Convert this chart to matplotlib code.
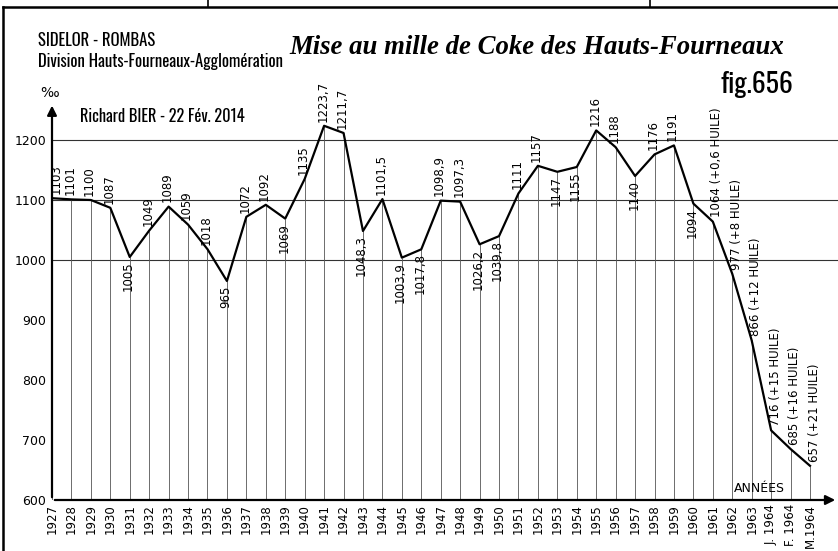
import matplotlib
matplotlib.use("Agg")
import matplotlib.pyplot as plt
from matplotlib.lines import Line2D

# Mise au mille de coke (‰), SIDELOR - Rombas
years = ['1927', '1928', '1929', '1930', '1931', '1932', '1933', '1934', '1935', '1936',
         '1937', '1938', '1939', '1940', '1941', '1942', '1943', '1944', '1945', '1946',
         '1947', '1948', '1949', '1950', '1951', '1952', '1953', '1954', '1955', '1956',
         '1957', '1958', '1959', '1960', '1961', '1962', '1963', 'J. 1964', 'F. 1964', 'M.1964']
coke = [1103, 1101, 1100, 1087, 1005, 1049, 1089, 1059, 1018, 965,
        1072, 1092, 1069, 1135, 1223.7, 1211.7, 1048.3, 1101.5, 1003.9, 1017.8,
        1098.9, 1097.3, 1026.2, 1039.8, 1111, 1157, 1147, 1155, 1216, 1188,
        1140, 1176, 1191, 1094, 1064, 977, 866, 716, 685, 657]
huile = [''] * 34 + ['(+0,6 HUILE)', '(+8 HUILE)', '(+12 HUILE)',
                     '(+15 HUILE)', '(+16 HUILE)', '(+21 HUILE)']
# labels written under the curve
below = {4, 9, 12, 16, 18, 19, 22, 23, 26, 27, 30, 33}

narrow = ['Oswald', 'DejaVu Sans']
hand = ['DejaVu Sans']

W, H = 838, 551
fig = plt.figure(figsize=(W / 100, H / 100), dpi=100)
fig.patch.set_facecolor('white')

px0, py0 = 52, 500          # origin (1927, 600) in pixels
step = 19.436               # pixels per year
scale = 0.6                 # pixels per ‰
ax = fig.add_axes([px0 / W, (H - py0) / H, (W - px0) / W, (py0 - 100) / H])
xmax = (W - px0) / step
ax.set_xlim(0, xmax)
ax.set_ylim(600, 600 + 400 / scale)
for s in ax.spines.values():
    s.set_visible(False)

x = list(range(len(coke)))

# gridlines at 1000, 1100, 1200
for g in [1000, 1100, 1200]:
    ax.plot([0, xmax], [g, g], color='#333333', lw=0.8, zorder=1)

# drop lines
ax.vlines(x, 600, coke, color='#555555', lw=0.6, zorder=1)

ax.plot(x, coke, color='black', lw=1.6, zorder=3)

# axes with arrows
ax.annotate('', xy=(0, 1262), xytext=(0, 600),
            arrowprops=dict(arrowstyle='-|>', color='black', lw=1.6, mutation_scale=14))
ax.annotate('', xy=(xmax, 600), xytext=(0, 600),
            arrowprops=dict(arrowstyle='-|>', color='black', lw=1.6, mutation_scale=14))

for i, v in enumerate(coke):
    txt = str(int(v)) if v == int(v) else f"{v:.1f}".replace('.', ',')
    if huile[i]:
        txt = txt + ' ' + huile[i]
    if i in below:
        ax.annotate(txt, (i, v), xytext=(-1, -3), textcoords='offset points',
                    rotation=90, ha='center', va='top', fontsize=8.5, family=hand, zorder=4)
    else:
        dx = 3 if (huile[i] or i == 0) else -1
        ax.annotate(txt, (i, v), xytext=(dx, 3), textcoords='offset points',
                    rotation=90, ha='center', va='bottom', fontsize=8.5, family=hand, zorder=4)

ax.set_yticks([600, 700, 800, 900, 1000, 1100, 1200])
ax.set_yticklabels(['600', '700', '800', '900', '1000', '1100', '1200'], family=hand, fontsize=9)
ax.set_xticks(x)
ax.set_xticklabels(years, rotation=90, family=hand, fontsize=8.5)
ax.tick_params(axis='y', length=0, pad=4)
ax.tick_params(axis='x', length=0, pad=3)

# frame of the sheet
fig.add_artist(Line2D([3 / W, 1], [1 - 7 / H, 1 - 7 / H], color='black', lw=1.8))
fig.add_artist(Line2D([3 / W, 3 / W], [0, 1 - 7 / H], color='black', lw=1.8))
for vx in [208, 650]:
    fig.add_artist(Line2D([vx / W, vx / W], [1 - 7 / H, 1], color='black', lw=1.2))

fig.text(38 / W, 1 - 40 / H, 'SIDELOR - ROMBAS', family=narrow, fontsize=12,
         va='center', ha='left')
fig.text(38 / W, 1 - 62 / H, 'Division Hauts-Fourneaux-Agglomération', family=narrow,
         fontsize=12, va='center', ha='left')
fig.text(537 / W, 1 - 47 / H, 'Mise au mille de Coke des Hauts-Fourneaux',
         family='Liberation Serif', fontsize=19.3, fontweight='bold', style='italic',
         va='center', ha='center')
fig.text(793 / W, 1 - 84 / H, 'fig.656', family=narrow, fontsize=20, fontweight='medium',
         va='center', ha='right')
fig.text(80 / W, 1 - 116 / H, 'Richard BIER - 22 Fév. 2014', family=narrow, fontsize=11.8,
         va='center', ha='left')
fig.text(50 / W, 1 - 93 / H, '‰', family=['DejaVu Sans'], fontsize=10, va='center', ha='center')
fig.text(759 / W, 1 - 488 / H, 'ANNÉES', family=hand, fontsize=9, va='center', ha='center')

fig.savefig('out.png', dpi=100, facecolor='white')
